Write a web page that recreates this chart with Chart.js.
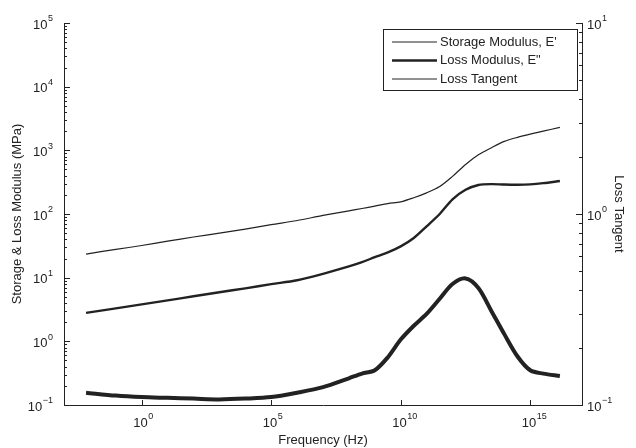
<!DOCTYPE html>
<html>
<head>
<meta charset="utf-8">
<script src="https://cdn.jsdelivr.net/npm/chart.js@4.4.1/dist/chart.umd.min.js"></script>
<style>
  html, body { margin: 0; padding: 0; background: #fff; }
  #wrap { width: 636px; height: 448px; }
</style>
</head>
<body>
<div id="wrap"><canvas id="dmaChart" width="636" height="448"></canvas></div>
<script>
// frequency (Hz), shared by the three curves
const frequency = [7.1e-3, 0.1, 1, 10, 100, 1e3, 1e4, 1e5, 1e6, 1e7, 1e8, 3.2e8, 1e9, 3.2e9,
  1e10, 3.2e10, 1e11, 3.2e11, 1e12, 3.2e12, 1e13, 3.2e13, 1e14, 3.2e14, 1e15, 3.2e15, 1.4e16];
// storage modulus E' (MPa)
const storageModulus = [23.5, 27.8, 32, 37.5, 43.5, 50, 58, 68, 79, 95, 112, 122, 133, 146,
  155, 180, 215, 270, 390, 600, 850, 1100, 1380, 1600, 1800, 2000, 2300];
// loss modulus E" (MPa)
const lossModulus = [2.8, 3.3, 3.8, 4.4, 5.1, 5.9, 6.8, 7.9, 9.1, 11.5, 15, 17.5, 21, 25,
  31, 42, 64, 100, 170, 240, 285, 295, 290, 288, 292, 305, 330];
// loss tangent (right axis)
const lossTangent = [0.116, 0.112, 0.110, 0.109, 0.108, 0.107, 0.108, 0.110, 0.116, 0.124, 0.138, 0.146, 0.152, 0.178,
  0.22, 0.26, 0.30, 0.36, 0.43, 0.46, 0.41, 0.31, 0.235, 0.18, 0.152, 0.146, 0.142];

const xTicks = [1, 1e5, 1e10, 1e15];
const yTicks = [1e-1, 1, 1e1, 1e2, 1e3, 1e4, 1e5];
const y2Ticks = [1e-1, 1, 1e1];

const seriesNames = ["Storage Modulus, E'", 'Loss Modulus, E"', "Loss Tangent"];

const pairs = (ys) => frequency.map((f, i) => ({ x: f, y: ys[i] }));
const expOf = v => String(Math.round(Math.log10(v))).replace("-", "\u2212");

const FONT = "'Liberation Sans', Arial, Helvetica, sans-serif";
const INK = "#222";

// "10" with a raised exponent; align is where x sits: left, center or right of the whole label
function drawPow(ctx, v, x, y, align) {
  const base = "10", ex = expOf(v);
  ctx.font = "13px " + FONT;
  const wb = ctx.measureText(base).width;
  ctx.font = "9px " + FONT;
  const we = ctx.measureText(ex).width;
  const total = wb + we + 0.5;
  let x0 = x;
  if (align === "center") x0 = x - total / 2 + we / 2 - 1;
  if (align === "right") x0 = x - total;
  ctx.textAlign = "left";
  ctx.textBaseline = "middle";
  ctx.font = "13px " + FONT;
  ctx.fillText(base, x0, y);
  ctx.font = "9px " + FONT;
  ctx.fillText(ex, x0 + wb + 0.5, y - 6);
}

// inward tick marks and tick labels, drawn through the scales
const axisMarks = {
  id: "axisMarks",
  afterDatasetsDraw(chart) {
    const { ctx, chartArea: a, scales } = chart;
    ctx.save();
    ctx.strokeStyle = INK;
    ctx.fillStyle = INK;
    ctx.lineWidth = 1;
    ctx.beginPath();
    for (let e = -1; e <= 5; e++) {
      for (let m = 1; m <= 9; m++) {
        const v = m * Math.pow(10, e);
        if (v > 1e5 + 1) break;
        const y = Math.round(scales.y.getPixelForValue(v)) + 0.5;
        ctx.moveTo(a.left, y);
        ctx.lineTo(a.left + (m === 1 ? 6 : 3), y);
      }
    }
    for (let e = -1; e <= 1; e++) {
      for (let m = 1; m <= 9; m++) {
        const v = m * Math.pow(10, e);
        if (v > 10 + 1e-9) break;
        const y = Math.round(scales.y2.getPixelForValue(v)) + 0.5;
        ctx.moveTo(a.right, y);
        ctx.lineTo(a.right - (m === 1 ? 6 : 3), y);
      }
    }
    xTicks.forEach(v => {
      const x = Math.round(scales.x.getPixelForValue(v)) + 0.5;
      ctx.moveTo(x, a.bottom);
      ctx.lineTo(x, a.bottom - 5);
    });
    ctx.stroke();

    yTicks.forEach(v => drawPow(ctx, v, a.left - 11, scales.y.getPixelForValue(v) + 2, "right"));
    y2Ticks.forEach(v => drawPow(ctx, v, a.right + 5, scales.y2.getPixelForValue(v) + 2, "left"));
    xTicks.forEach(v => drawPow(ctx, v, scales.x.getPixelForValue(v), a.bottom + 18, "center"));
    ctx.restore();
  }
};

// boxed legend in the upper right corner of the plot
const boxedLegend = {
  id: "boxedLegend",
  afterDraw(chart) {
    const { ctx, chartArea: a } = chart;
    const w = 194, h = 61;
    const left = a.right - 5 - w, top = a.top + 6;
    ctx.save();
    ctx.fillStyle = "#fff";
    ctx.fillRect(left, top, w, h);
    ctx.strokeStyle = INK;
    ctx.lineWidth = 1;
    ctx.strokeRect(left + 0.5, top + 0.5, w, h);
    const widths = [1, 2.5, 1];
    ctx.font = "13px " + FONT;
    ctx.textBaseline = "middle";
    seriesNames.forEach((name, i) => {
      const y = top + 13 + i * 18.5;
      ctx.beginPath();
      ctx.lineWidth = widths[i];
      ctx.moveTo(left + 9, y);
      ctx.lineTo(left + 54, y);
      ctx.stroke();
      ctx.fillStyle = INK;
      ctx.fillText(name, left + 57, y);
    });
    ctx.restore();
  }
};

const axisBase = {
  type: "logarithmic",
  grid: { display: false, drawTicks: false },
  border: { display: true, color: INK, width: 1 },
  ticks: { display: false }
};
const titleFont = { family: FONT, size: 13 };

const ctx = document.getElementById("dmaChart").getContext("2d");
new Chart(ctx, {
  type: "line",
  data: {
    datasets: [
      { label: seriesNames[0], data: pairs(storageModulus), yAxisID: "y", borderColor: INK, borderWidth: 1.2 },
      { label: seriesNames[1], data: pairs(lossModulus), yAxisID: "y", borderColor: INK, borderWidth: 2.4 },
      { label: seriesNames[2], data: pairs(lossTangent), yAxisID: "y2", borderColor: INK, borderWidth: 4 }
    ]
  },
  options: {
    responsive: false,
    animation: false,
    parsing: false,
    layout: { padding: { top: 23, right: 0, bottom: 0, left: 0 } },
    elements: { point: { radius: 0 }, line: { tension: 0.3, fill: false } },
    plugins: { legend: { display: false }, tooltip: { enabled: false } },
    scales: {
      x: Object.assign({}, axisBase, {
        min: 1e-3,
        max: 1e17,
        afterFit: s => { s.height = 43; },
        title: { display: true, text: "Frequency (Hz)", color: INK, font: titleFont, padding: { top: 0, bottom: 0 } }
      }),
      y: Object.assign({}, axisBase, {
        position: "left",
        min: 1e-1,
        max: 1e5,
        afterFit: s => { s.width = 64; },
        title: { display: true, text: "Storage & Loss Modulus (MPa)", color: INK, font: titleFont, padding: { top: 10, bottom: 0 } }
      }),
      y2: Object.assign({}, axisBase, {
        position: "right",
        min: 1e-1,
        max: 1e1,
        afterFit: s => { s.width = 54; },
        title: { display: true, text: "Loss Tangent", color: INK, font: titleFont, padding: { top: 10, bottom: 0 } }
      })
    }
  },
  plugins: [axisMarks, boxedLegend]
});
</script>
</body>
</html>
